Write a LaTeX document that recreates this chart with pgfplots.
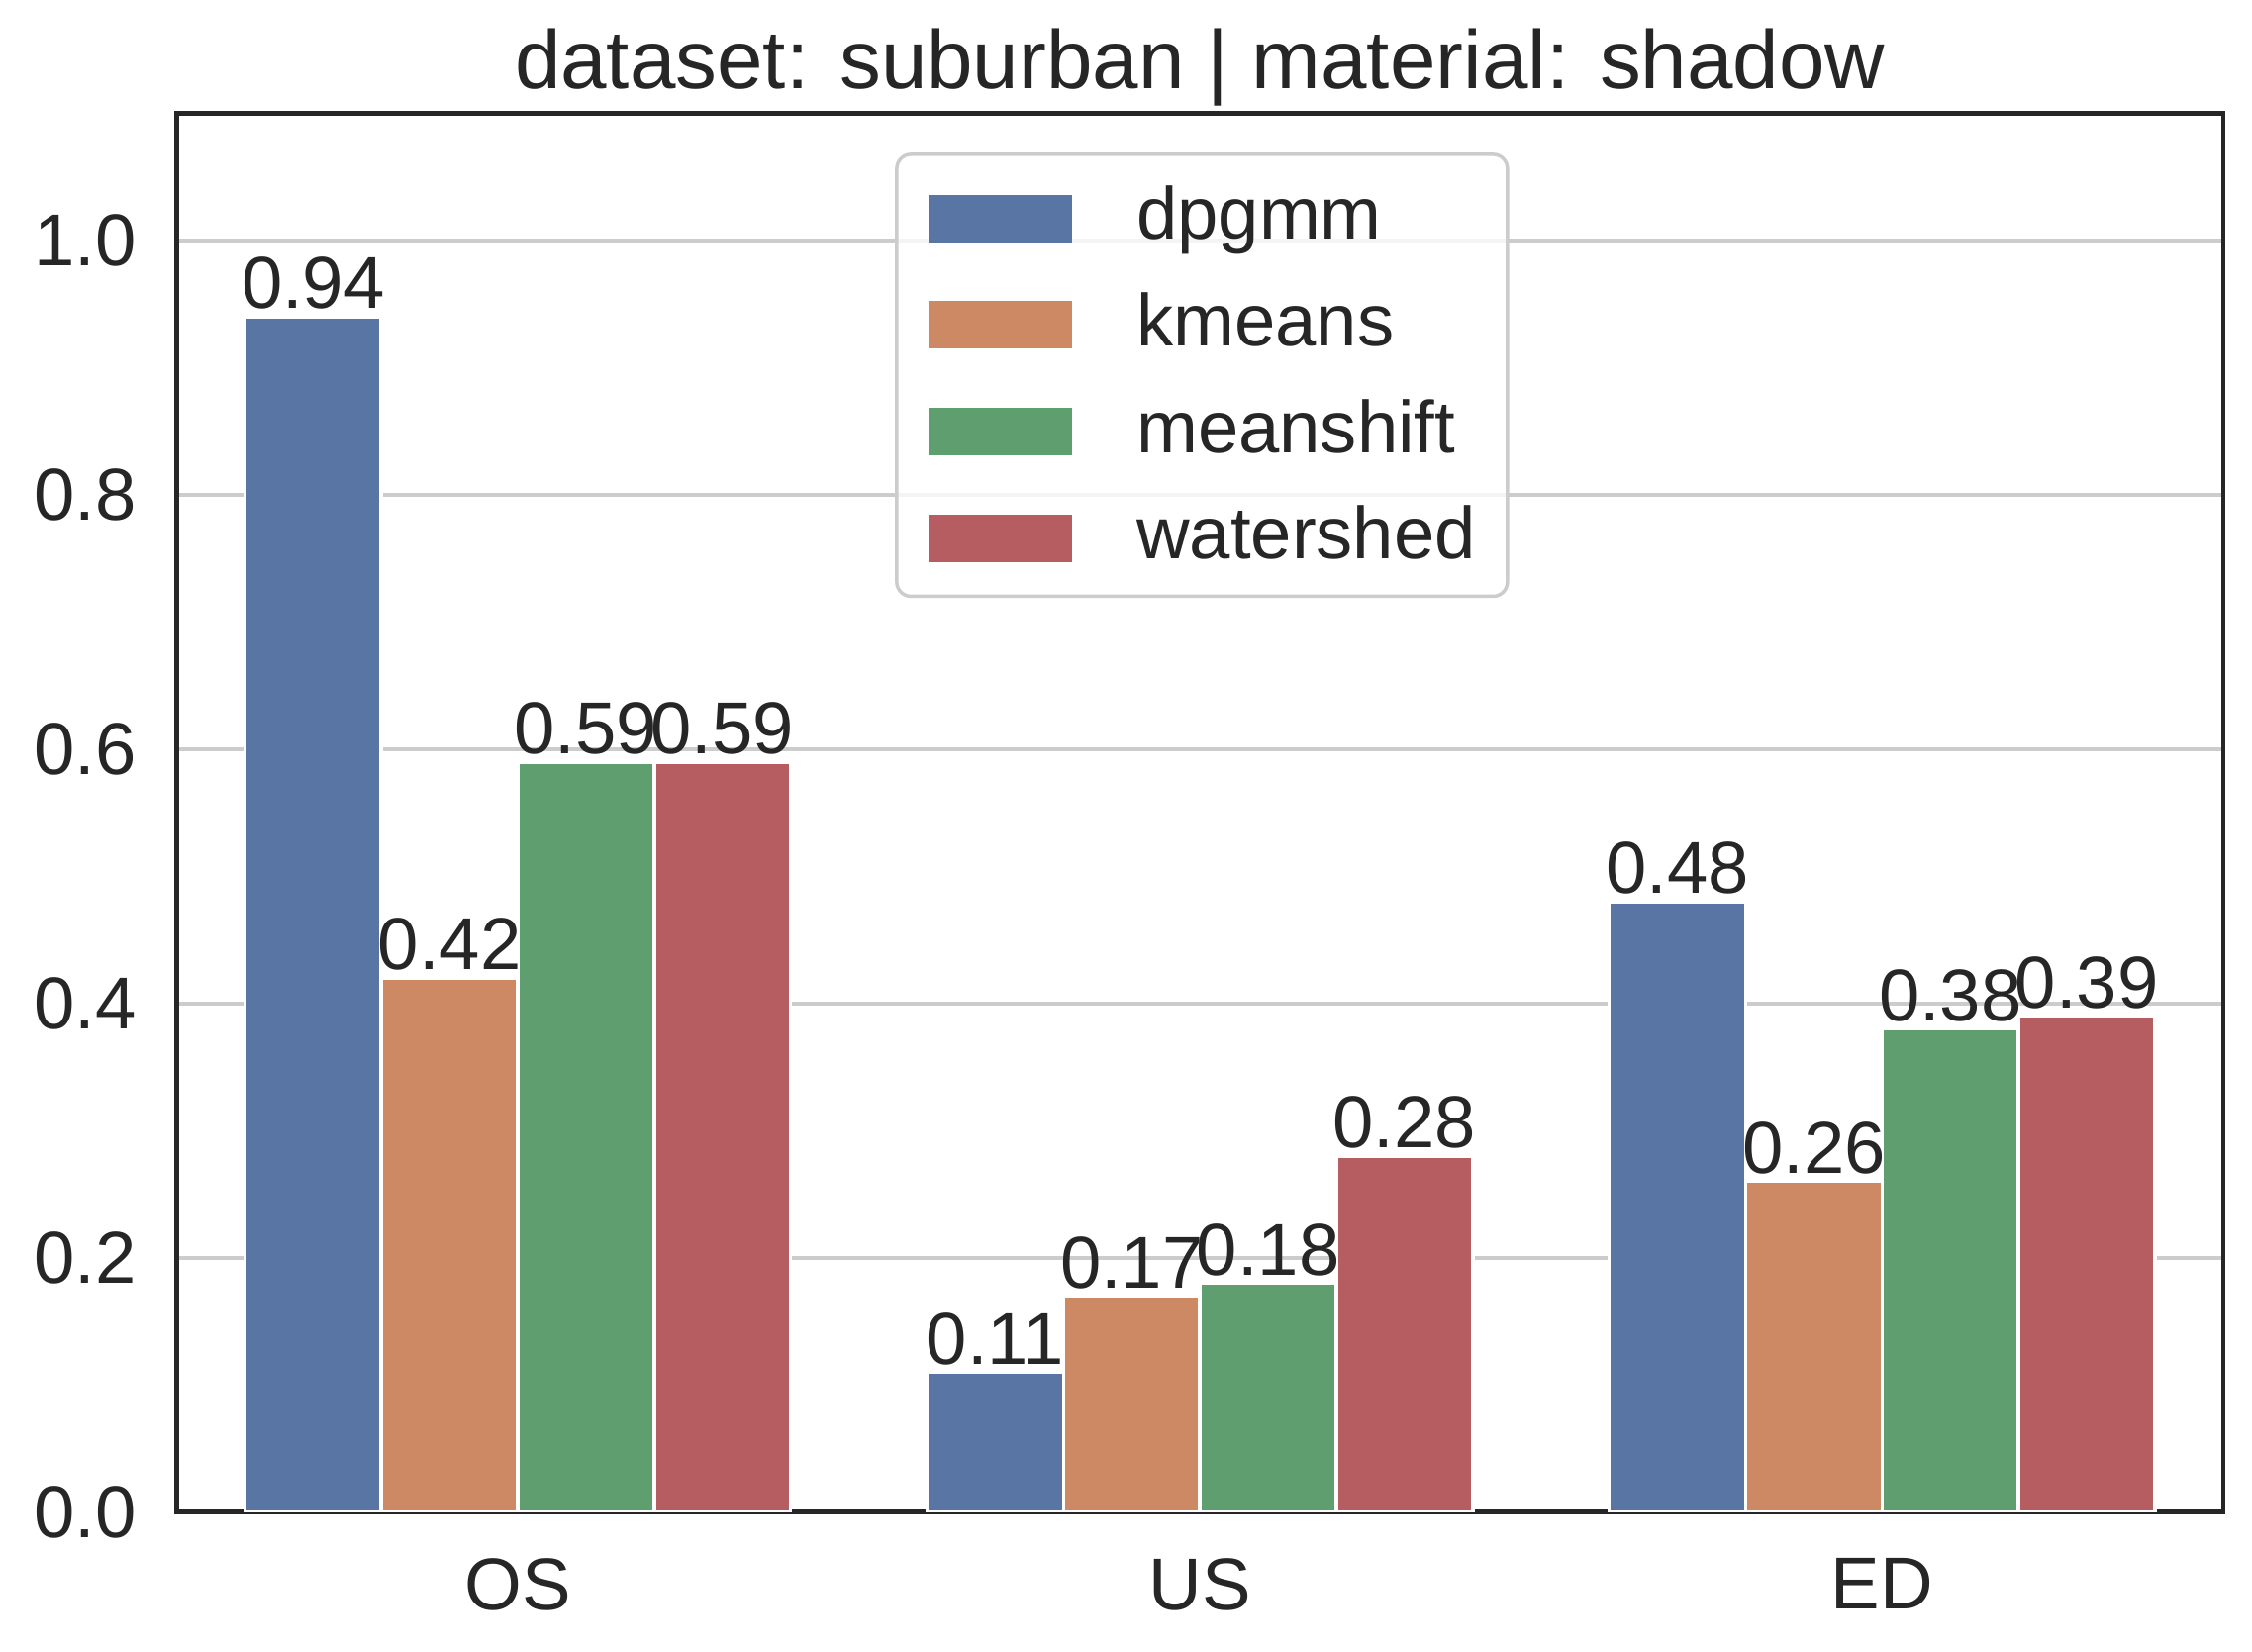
\documentclass[border=0pt]{standalone}
\usepackage{fontspec}
\setmainfont{Liberation Sans}
\usepackage{pgfplots}
\pgfplotsset{compat=1.18}
\definecolor{cblue}{HTML}{5975A4}
\definecolor{corange}{HTML}{CC8963}
\definecolor{cgreen}{HTML}{5F9E6E}
\definecolor{cred}{HTML}{B55D60}
\definecolor{gridgray}{HTML}{CCCCCC}
\definecolor{axisdark}{HTML}{262626}
\definecolor{textdark}{HTML}{262626}
\newcommand{\tfont}{\fontsize{12.8}{14}\selectfont}
\begin{document}
\begin{tikzpicture}
\begin{axis}[
  scale only axis, width=356.25pt, height=243.5pt,
  xmin=-0.5, xmax=2.5, ymin=0, ymax=1.1,
  xtick={0,1,2}, xticklabels={OS,US,ED},
  ytick={0,0.2,0.4,0.6,0.8,1.0},
  yticklabel style={/pgf/number format/fixed, /pgf/number format/precision=1, /pgf/number format/fixed zerofill},
  /pgf/number format/assume math mode=true,
  ymajorgrids, grid style={color=gridgray, line width=0.6pt},
  axis line style={color=axisdark, line width=0.8pt},
  major tick length=0pt,
  tick label style={font=\tfont, color=textdark},
  xticklabel style={yshift=-4.5pt},
  yticklabel style={xshift=-3.5pt},
  title={dataset: suburban | material: shadow},
  every axis title/.style={at={(0.5,1)}, anchor=base, yshift=4.25pt, font=\fontsize{14.4}{16}\selectfont, text=textdark},
  ybar, bar width=0.2,
  nodes near coords,
  nodes near coords style={font=\tfont, color=textdark, /pgf/number format/fixed, /pgf/number format/precision=2, /pgf/number format/fixed zerofill, /pgf/number format/assume math mode=true, inner sep=1pt},
  every axis plot/.append style={draw=white, line width=0.6pt, bar shift=0pt},
  legend image code/.code={\fill[#1, draw=none, fill opacity=1, sharp corners] (0pt,-0.5pt) rectangle (25pt,7.75pt);},
  legend cell align=left,
  legend style={at={(0.351,0.972)}, anchor=north west, draw=gridgray, line width=0.6pt, rounded corners=2.5pt, fill=white, fill opacity=0.8, draw opacity=1, text opacity=1, font=\tfont, text=textdark, inner xsep=5.5pt, inner ysep=5pt, row sep=7.25pt, nodes={inner sep=0pt, anchor=base west}, /tikz/every odd column/.append style={column sep=11.25pt}},
]
\addplot[fill=cblue] coordinates {(-0.3,0.94) (0.7,0.11) (1.7,0.48)};
\addlegendentry{\strut dpgmm}
\addplot[fill=corange] coordinates {(-0.1,0.42) (0.9,0.17) (1.9,0.26)};
\addlegendentry{\strut kmeans}
\addplot[fill=cgreen] coordinates {(0.1,0.59) (1.1,0.18) (2.1,0.38)};
\addlegendentry{\strut meanshift}
\addplot[fill=cred] coordinates {(0.3,0.59) (1.3,0.28) (2.3,0.39)};
\addlegendentry{\strut watershed}
\end{axis}
\pgfresetboundingbox
\path ([shift={(-30.75pt,-24.25pt)}]current axis.south west) rectangle ([shift={(5pt,19.75pt)}]current axis.north east);
\end{tikzpicture}
\end{document}
